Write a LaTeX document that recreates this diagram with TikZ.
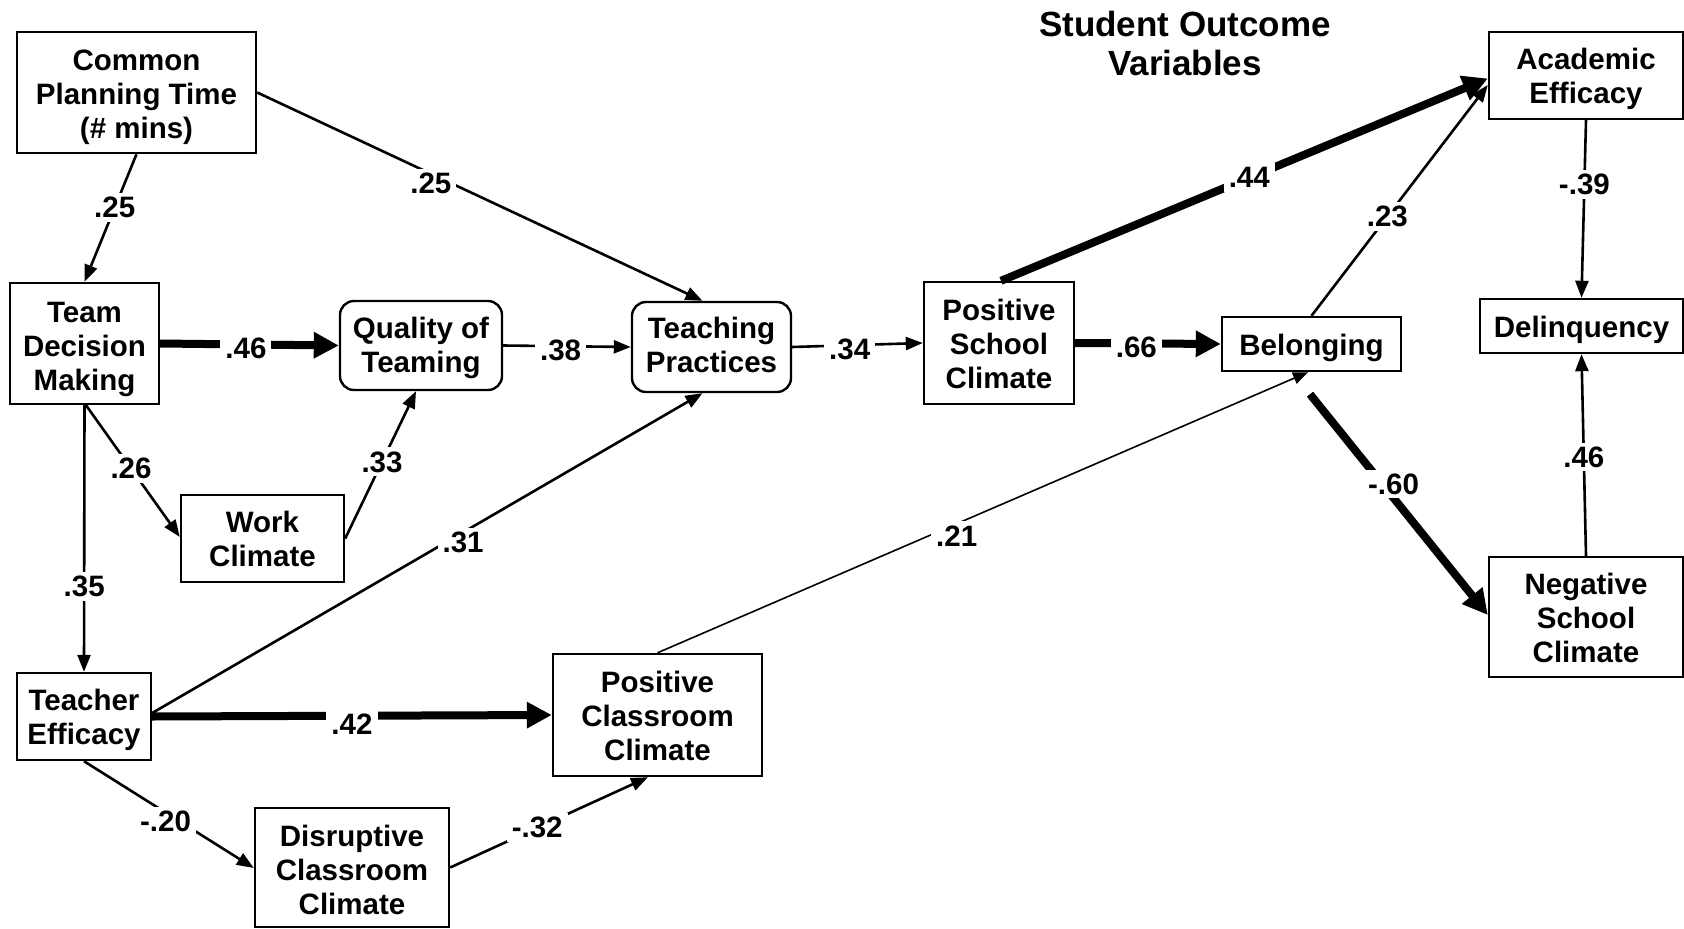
\documentclass[tikz,border=0pt]{standalone}
\usepackage{fontspec}
\setmainfont{Liberation Sans}
\usetikzlibrary{arrows.meta}
\newcommand\topfix[1]{\rule{0pt}{#1pt}}
\newcommand\botfix[1]{\rule[-#1pt]{0pt}{0pt}}
\begin{document}
\begin{tikzpicture}[x=1pt,y=-1pt,
  box/.style={draw, line width=2.4pt, align=center, inner sep=0pt,
    font=\bfseries\fontsize{29.5}{34}\selectfont},
  rbox/.style={box, rounded corners=14pt},
  lab/.style={fill=white, inner xsep=5pt, inner ysep=4pt,
    font=\bfseries\fontsize{29.5}{34}\selectfont},
  arr/.style={line width=2.6pt, -{Triangle[length=17pt,width=13pt]}},
  heavy/.style={line width=8pt, -{Triangle[length=25pt,width=25pt]}},
  fine/.style={line width=1.6pt, -{Triangle[length=15pt,width=12pt]}}
]
\useasboundingbox (0,0) rectangle (1684,929);

\node[font=\bfseries\fontsize{35}{39}\selectfont, align=center] (title) at (1185,43) {Student Outcome\\Variables};

\node[box, minimum width=239pt, minimum height=121pt] (cpt) at (136.5,92.5) {\topfix{30}Common\\Planning Time\\(\# mins)};
\node[box, minimum width=149pt, minimum height=121pt] (tdm) at (84.5,343.5) {\topfix{32}Team\\Decision\\Making};
\node[rbox, minimum width=162pt, minimum height=89pt] (qot) at (421,345.5) {\topfix{25.5}Quality of\\Teaming};
\node[box, minimum width=163pt, minimum height=87pt] (wc) at (262.5,538.5) {Work\\Climate};
\node[rbox, minimum width=159pt, minimum height=90pt] (tp) at (711.5,347) {Teaching\\Practices\botfix{4}};
\node[box, minimum width=150pt, minimum height=122pt] (psc) at (999,343) {\topfix{23.5}Positive\\School\\Climate};
\node[box, minimum width=179pt, minimum height=54pt, execute at begin node={\rule{0pt}{30pt}}] (bel) at (1311.5,344) {Belonging};
\node[box, minimum width=194pt, minimum height=87pt] (ae) at (1586,75.5) {\topfix{27.5}Academic\\Efficacy};
\node[box, minimum width=203pt, minimum height=54pt, execute at begin node={\rule{0pt}{30pt}}] (del) at (1581.5,326) {Delinquency};
\node[box, minimum width=194pt, minimum height=120pt] (nsc) at (1586,617) {\topfix{23.5}Negative\\School\\Climate};
\node[box, minimum width=134pt, minimum height=87pt] (te) at (84,716.5) {\topfix{27.5}Teacher\\Efficacy};
\node[box, minimum width=209pt, minimum height=122pt] (pcc) at (657.5,715) {\topfix{23.5}Positive\\Classroom\\Climate};
\node[box, minimum width=194pt, minimum height=119pt] (dcc) at (352,867.5) {\topfix{25.5}Disruptive\\Classroom\\Climate};

\draw[arr] (cpt.south) -- node[lab,pos=0.42]{.25} (tdm.north);
\draw[arr] (cpt.east) -- node[lab,pos=0.39,yshift=-10pt]{.25} ([xshift=-9pt]tp.north);
\draw[heavy] (tdm.east) -- node[lab,pos=0.48,yshift=-4pt]{.46} (qot.west);
\draw[arr] (qot.east) -- node[lab,pos=0.45,yshift=-4pt]{.38} (tp.west);
\draw[arr] (tp.east) -- node[lab,pos=0.44,yshift=-4pt]{.34} (psc.west);
\draw[heavy] (psc.east) -- node[lab,pos=0.42,yshift=-4pt]{.66} (bel.west);
\draw[heavy] ([xshift=2pt]psc.north) -- node[lab,pos=0.51]{.44} ([yshift=-3pt]ae.west);
\draw[arr] (bel.north) -- node[lab,pos=0.43]{.23} ([yshift=-9.5pt]ae.west);
\draw[arr] (ae.south) -- node[lab,pos=0.36]{-.39} (del.north);
\draw[arr] (nsc.north) -- node[lab,pos=0.49]{.46} (del.south);
\draw[heavy] ([xshift=-1.5pt,yshift=-22pt]bel.south) -- node[lab,pos=0.47,yshift=14pt]{-.60} ([yshift=2pt]nsc.west);
\draw[arr] ([xshift=1.5pt]tdm.south) -- node[lab,pos=0.48]{.26} ([yshift=1.5pt]wc.west);
\draw[arr] (tdm.south) -- node[lab,pos=0.68]{.35} (te.north);
\draw[arr] (wc.east) -- node[lab,pos=0.52]{.33} ([xshift=-5pt]qot.south);
\draw[arr] ([yshift=3.5pt]te.east) -- node[lab,pos=0.565,yshift=-10pt]{.31} ([xshift=-9pt]tp.south);
\draw[heavy] (te.east) -- node[lab,pos=0.5,yshift=-8pt]{.42} (pcc.west);
\draw[arr] (te.south) -- node[lab,pos=0.48,yshift=-9pt]{-.20} ([yshift=-0.5pt]dcc.west);
\draw[arr] (dcc.east) -- node[lab,pos=0.44]{-.32} ([xshift=-9.5pt]pcc.south);
\draw[fine] (pcc.north) -- node[lab,pos=0.46,yshift=-12pt]{.21} ([xshift=-3.5pt]bel.south);
\end{tikzpicture}
\end{document}
